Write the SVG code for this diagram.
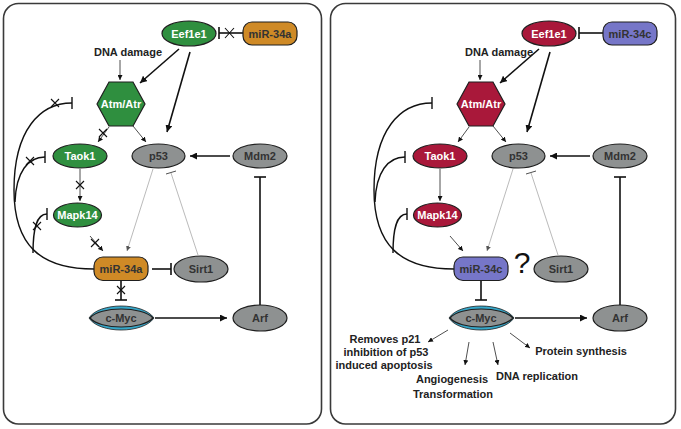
<svg xmlns="http://www.w3.org/2000/svg" width="681" height="429" viewBox="0 0 681 429">
<defs>
<style>
.panel{fill:#fff;stroke:#3a3a3a;stroke-width:1.6}
.g{fill:#2f8f3f;stroke:#1f1f1f;stroke-width:1.2}
.r{fill:#a9183a;stroke:#1f1f1f;stroke-width:1.2}
.o{fill:#cf8a26;stroke:#1f1f1f;stroke-width:1.2}
.b{fill:#7676c8;stroke:#1f1f1f;stroke-width:1.2}
.gr{fill:#8e9191;stroke:#1f1f1f;stroke-width:1.2}
.tw{font-family:"Liberation Sans",Arial,sans-serif;font-weight:bold;font-size:11px;fill:#fff;text-anchor:middle}
.td{font-family:"Liberation Sans",Arial,sans-serif;font-weight:bold;font-size:11px;fill:#333;text-anchor:middle}
.lb{font-family:"Liberation Sans",Arial,sans-serif;font-weight:bold;font-size:11px;fill:#222;text-anchor:middle}
.thin{fill:none;stroke:#222;stroke-width:0.8}
.thick{fill:none;stroke:#111;stroke-width:1.6}
.faint{fill:none;stroke:#a8a8a8;stroke-width:0.8}
.arc{fill:none;stroke:#111;stroke-width:1.4}
.x{fill:none;stroke:#111;stroke-width:1.1}
</style>
<marker id="ah" viewBox="0 0 6 6" refX="6" refY="3" markerWidth="5" markerHeight="5" markerUnits="userSpaceOnUse" orient="auto"><path d="M0,0 L6,3 L0,6 z" fill="#111"/></marker>
<marker id="ahb" viewBox="0 0 6 6" refX="6" refY="3" markerWidth="7" markerHeight="7" markerUnits="userSpaceOnUse" orient="auto"><path d="M0,0 L6,3 L0,6 z" fill="#111"/></marker>
<marker id="ahg" viewBox="0 0 6 6" refX="6" refY="3" markerWidth="5" markerHeight="5" markerUnits="userSpaceOnUse" orient="auto"><path d="M0,0 L6,3 L0,6 z" fill="#555"/></marker>
</defs>

<rect class="panel" x="3.5" y="3.5" width="318" height="420.5" rx="15"/>
<rect class="panel" x="330.5" y="3.5" width="345" height="420.5" rx="15"/>

<!-- Connectors: left panel -->
<g id="connectors-left">
<line class="thin" x1="120" y1="60" x2="120" y2="80" marker-end="url(#ah)"/>
<line class="thick" x1="179" y1="49" x2="140" y2="83" marker-end="url(#ahb)"/>
<line class="thick" x1="190" y1="52" x2="167" y2="132" marker-end="url(#ahb)"/>
<line class="thick" x1="230" y1="156" x2="190" y2="156" marker-end="url(#ahb)"/>
<line class="thin" x1="133" y1="126" x2="146" y2="142" marker-end="url(#ah)"/>
<line class="thin" x1="109" y1="127" x2="98" y2="142" marker-end="url(#ah)"/>
<path class="x" d="M99,129 L107,137 M99,137 L107,129"/>
<line class="thin" x1="80" y1="169" x2="80" y2="201" marker-end="url(#ah)"/>
<path class="x" d="M76,181 L84,189 M76,189 L84,181"/>
<line class="thin" x1="90" y1="236" x2="103" y2="251" marker-end="url(#ah)"/>
<path class="x" d="M91,239 L99,247 M91,247 L99,239"/>
<line class="faint" x1="153" y1="169" x2="127" y2="251" marker-end="url(#ahg)"/>
<line class="faint" x1="198" y1="255" x2="171" y2="173"/>
<line class="thin" x1="166" y1="174" x2="176" y2="171"/>
<line class="thick" x1="152" y1="269" x2="171" y2="269"/>
<line class="thick" x1="171" y1="263" x2="171" y2="275"/>
<line class="thick" x1="121" y1="281" x2="121" y2="300"/>
<line class="thick" x1="115" y1="300" x2="127" y2="300"/>
<path class="x" d="M117,286 L125,294 M117,294 L125,286"/>
<line class="thick" x1="155" y1="318" x2="227" y2="318" marker-end="url(#ahb)"/>
<line class="thick" x1="260" y1="306" x2="260" y2="177"/>
<line class="thick" x1="254" y1="177" x2="266" y2="177"/>
<line class="thick" x1="243" y1="33" x2="219" y2="33"/>
<line class="thick" x1="219" y1="27" x2="219" y2="39"/>
<path class="x" d="M225,28 L234,38 M225,38 L234,28"/>
<path class="arc" d="M94,269 C40,269 14,245 14,190 C14,130 40,103 72,103"/>
<line class="arc" x1="72" y1="97" x2="72" y2="109"/>
<path class="x" d="M51,99 L59,107 M51,107 L59,99"/>
<path class="arc" d="M15,202 C16,172 28,157 45,157"/>
<line class="arc" x1="45" y1="151" x2="45" y2="163"/>
<path class="x" d="M26,157 L34,165 M26,165 L34,157"/>
<path class="arc" d="M33,253 C33,230 36,214 47,214"/>
<line class="arc" x1="47" y1="208" x2="47" y2="220"/>
<path class="x" d="M33,222 L41,230 M33,230 L41,222"/>
</g>

<!-- Connectors: right panel -->
<g id="connectors-right">
<line class="thin" x1="480" y1="60" x2="480" y2="80" marker-end="url(#ah)"/>
<line class="thick" x1="539" y1="49" x2="500" y2="83" marker-end="url(#ahb)"/>
<line class="thick" x1="550" y1="52" x2="527" y2="132" marker-end="url(#ahb)"/>
<line class="thick" x1="590" y1="156" x2="550" y2="156" marker-end="url(#ahb)"/>
<line class="thin" x1="493" y1="126" x2="506" y2="142" marker-end="url(#ah)"/>
<line class="thin" x1="469" y1="127" x2="458" y2="142" marker-end="url(#ah)"/>
<line class="thin" x1="440" y1="169" x2="440" y2="201" marker-end="url(#ah)"/>
<line class="thin" x1="450" y1="236" x2="463" y2="251" marker-end="url(#ah)"/>
<line class="faint" x1="513" y1="169" x2="487" y2="251" marker-end="url(#ahg)"/>
<line class="faint" x1="558" y1="255" x2="531" y2="173"/>
<line class="thin" x1="526" y1="174" x2="536" y2="171"/>
<line class="thick" x1="481" y1="281" x2="481" y2="300"/>
<line class="thick" x1="475" y1="300" x2="487" y2="300"/>
<line class="thick" x1="515" y1="318" x2="587" y2="318" marker-end="url(#ahb)"/>
<line class="thick" x1="620" y1="306" x2="620" y2="177"/>
<line class="thick" x1="614" y1="177" x2="626" y2="177"/>
<line class="thick" x1="603" y1="33" x2="579" y2="33"/>
<line class="thick" x1="579" y1="27" x2="579" y2="39"/>
<path class="arc" d="M454,269 C400,269 374,245 374,190 C374,130 400,103 432,103"/>
<line class="arc" x1="432" y1="97" x2="432" y2="109"/>
<path class="arc" d="M375,202 C376,172 388,157 405,157"/>
<line class="arc" x1="405" y1="151" x2="405" y2="163"/>
<path class="arc" d="M393,253 C393,230 396,214 407,214"/>
<line class="arc" x1="407" y1="208" x2="407" y2="220"/>
<line class="thin" x1="448" y1="330" x2="428" y2="342" marker-end="url(#ah)"/>
<line class="thin" x1="469" y1="342" x2="465" y2="365" marker-end="url(#ah)"/>
<line class="thin" x1="493" y1="342" x2="498" y2="365" marker-end="url(#ah)"/>
<line class="thin" x1="510" y1="333" x2="530" y2="348" marker-end="url(#ah)"/>
</g>

<!-- Left panel nodes -->
<g id="L-Eef1e1"><ellipse class="g" cx="189" cy="33.5" rx="27" ry="12.5"/><text class="tw" x="189" y="37.5">Eef1e1</text></g>
<g id="L-miR34a-top"><rect class="o" x="243" y="22" width="54" height="23" rx="9"/><text class="td" x="270" y="37.5">miR-34a</text></g>
<g id="L-DNA-damage"><text class="lb" x="128" y="56" font-size="11.5">DNA damage</text></g>
<g id="L-AtmAtr"><polygon class="g" points="97,104 109,82 133,82 145,104 133,126 109,126"/><text class="tw" x="121" y="108" font-size="12">Atm/Atr</text></g>
<g id="L-p53"><ellipse class="gr" cx="158.5" cy="156" rx="26.5" ry="12"/><text class="td" x="158.5" y="160">p53</text></g>
<g id="L-Mdm2"><ellipse class="gr" cx="260" cy="156" rx="27" ry="12"/><text class="td" x="260" y="160">Mdm2</text></g>
<g id="L-Taok1"><ellipse class="g" cx="80" cy="156" rx="27" ry="12"/><text class="tw" x="80" y="160">Taok1</text></g>
<g id="L-Mapk14"><ellipse class="g" cx="77.5" cy="215" rx="24" ry="12"/><text class="tw" x="77.5" y="219">Mapk14</text></g>
<g id="L-miR34a"><rect class="o" x="94" y="257" width="54" height="23.5" rx="9"/><text class="td" x="121" y="272.5">miR-34a</text></g>
<g id="L-Sirt1"><ellipse class="gr" cx="201" cy="269" rx="27" ry="13"/><text class="td" x="201" y="273">Sirt1</text></g>
<g id="L-cMyc"><path d="M89,318 C99,302 143,302 154,318 C143,334 99,334 89,318 z" fill="#36a7c9" stroke="#1f1f1f" stroke-width="0.8"/><path class="gr" d="M90,318 C100,306 142,306 153,318 C142,330 100,330 90,318 z"/><text class="td" x="121" y="322">c-Myc</text></g>
<g id="L-Arf"><ellipse class="gr" cx="260" cy="318" rx="27" ry="13"/><text class="td" x="260" y="322">Arf</text></g>

<!-- Right panel nodes -->
<g id="R-Eef1e1"><ellipse class="r" cx="549" cy="33.5" rx="27" ry="12.5"/><text class="tw" x="549" y="37.5">Eef1e1</text></g>
<g id="R-miR34c-top"><rect class="b" x="603" y="22" width="54" height="23" rx="9"/><text class="td" x="630" y="37.5">miR-34c</text></g>
<g id="R-DNA-damage"><text class="lb" x="499" y="56" font-size="11.5">DNA damage</text></g>
<g id="R-AtmAtr"><polygon class="r" points="457,104 469,82 493,82 505,104 493,126 469,126"/><text class="tw" x="481" y="108" font-size="12">Atm/Atr</text></g>
<g id="R-p53"><ellipse class="gr" cx="518.5" cy="156" rx="26.5" ry="12"/><text class="td" x="518.5" y="160">p53</text></g>
<g id="R-Mdm2"><ellipse class="gr" cx="620" cy="156" rx="27" ry="12"/><text class="td" x="620" y="160">Mdm2</text></g>
<g id="R-Taok1"><ellipse class="r" cx="440" cy="156" rx="27" ry="12"/><text class="tw" x="440" y="160">Taok1</text></g>
<g id="R-Mapk14"><ellipse class="r" cx="437.5" cy="215" rx="24" ry="12"/><text class="tw" x="437.5" y="219">Mapk14</text></g>
<g id="R-miR34c"><rect class="b" x="454" y="257" width="54" height="23.5" rx="9"/><text class="td" x="481" y="272.5">miR-34c</text></g>
<g id="R-question"><text x="522" y="273" font-family="Liberation Sans, Arial, sans-serif" font-size="30" fill="#111" text-anchor="middle">?</text></g>
<g id="R-Sirt1"><ellipse class="gr" cx="561" cy="269" rx="27" ry="13"/><text class="td" x="561" y="273">Sirt1</text></g>
<g id="R-cMyc"><path d="M449,318 C459,302 503,302 514,318 C503,334 459,334 449,318 z" fill="#36a7c9" stroke="#1f1f1f" stroke-width="0.8"/><path class="gr" d="M450,318 C460,306 502,306 513,318 C502,330 460,330 450,318 z"/><text class="td" x="481" y="322">c-Myc</text></g>
<g id="R-Arf"><ellipse class="gr" cx="620" cy="318" rx="27" ry="13"/><text class="td" x="620" y="322">Arf</text></g>
<g id="R-out-p21"><text class="lb" x="385" y="343">Removes p21</text><text class="lb" x="386" y="356">inhibition of p53</text><text class="lb" x="384" y="369">induced apoptosis</text></g>
<g id="R-out-angio"><text class="lb" x="452" y="383">Angiogenesis</text><text class="lb" x="453" y="398">Transformation</text></g>
<g id="R-out-dna"><text class="lb" x="537" y="380">DNA replication</text></g>
<g id="R-out-protein"><text class="lb" x="581" y="355">Protein synthesis</text></g>
</svg>
